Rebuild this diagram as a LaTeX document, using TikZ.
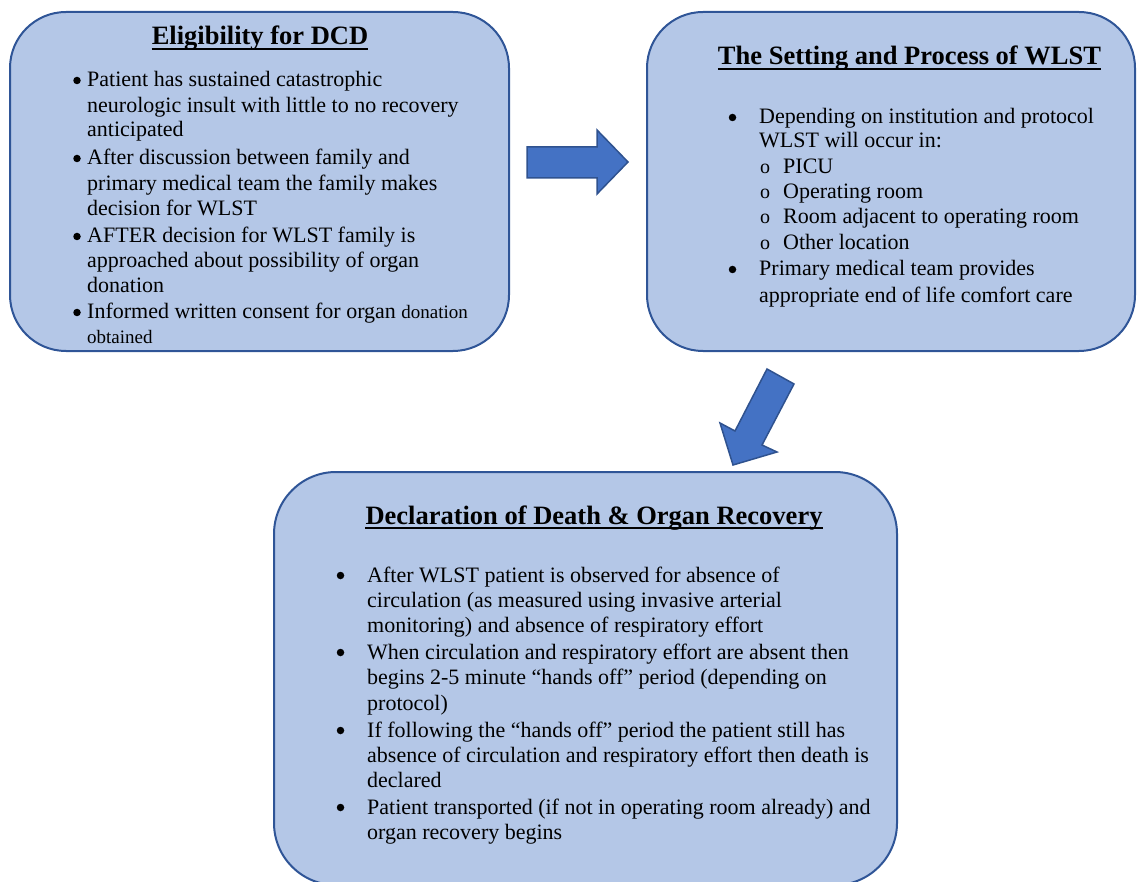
\documentclass[tikz,border=0pt]{standalone}
\usepackage{fontspec}
\setmainfont{Liberation Serif}
\definecolor{boxfill}{HTML}{B4C7E7}
\definecolor{boxline}{HTML}{2F5597}
\definecolor{arrfill}{HTML}{4472C4}
\definecolor{arrline}{HTML}{2F528F}
\begin{document}
\begin{tikzpicture}[x=1pt,y=-1pt,
  box/.style={draw=boxline,fill=boxfill,line width=2pt,shape=rectangle,inner sep=0pt},
  title/.style={inner sep=0pt,anchor=base,font=\fontsize{26.5}{30}\selectfont\bfseries},
  txt/.style={inner sep=0pt,anchor=base west,font=\fontsize{22}{26}\selectfont},
  bul/.style={circle,fill=black,inner sep=0pt,minimum size=7.5pt,yshift=6.5pt},
  sub/.style={inner sep=0pt,anchor=base,font=\fontsize{20}{26}\selectfont},
  uline/.style={line width=2.5pt},
  blockarrow/.style={draw=arrline,fill=arrfill,line width=1.5pt,line join=miter}]
\useasboundingbox (0,0) rectangle (1137,882);
\clip (0,0) rectangle (1137,882);

% boxes
\node[box,rounded corners=56pt,minimum width=499pt,minimum height=339pt] (box1) at (259.5,181.5) {};
\node[box,rounded corners=56pt,minimum width=488pt,minimum height=339pt] (box2) at (891,181.5) {};
\node[box,rounded corners=62pt,minimum width=623pt,minimum height=413pt] (box3) at (585.5,678.5) {};

% block arrows
\draw[blockarrow] (527,147) -- (597,147) -- (597,130) -- (628,162) -- (597,194) -- (597,178) -- (527,178) -- cycle;
\draw[blockarrow] (767,369) -- (794,384) -- (762,445) -- (777,452) -- (733,465) -- (720,423) -- (735,431) -- cycle;

% box 1
\node[title] (t1) at (260,45) {Eligibility for DCD};
\draw[uline] ([yshift=-4pt]t1.base west) -- ([yshift=-4pt]t1.base east);
\node[bul] (b1a) at (77,87) {};
\node[txt] (l1a) at (87,87) {Patient has sustained catastrophic};
\node[txt] (l1b) at (87,113) {neurologic insult with little to no recovery};
\node[txt] (l1c) at (87,137) {anticipated};
\node[bul] (b1b) at (77,165) {};
\node[txt] (l1d) at (87,165) {After discussion between family and};
\node[txt] (l1e) at (87,191) {primary medical team the family makes};
\node[txt] (l1f) at (87,216) {decision for WLST};
\node[bul] (b1c) at (77,243) {};
\node[txt] (l1g) at (87,243) {AFTER decision for WLST family is};
\node[txt] (l1h) at (87,268) {approached about possibility of organ};
\node[txt] (l1i) at (87,293) {donation};
\node[bul] (b1d) at (77,319) {};
\node[txt] (l1j) at (87,319) {Informed written consent for organ {\fontsize{19}{24}\selectfont donation}};
\node[txt,font=\fontsize{19}{24}\selectfont] (l1k) at (87,343) {obtained};

% box 2
\node[title] (t2) at (909.5,65) {The Setting and Process of WLST};
\draw[uline] ([yshift=-4pt]t2.base west) -- ([yshift=-4pt]t2.base east);
\node[bul] (b2a) at (732.5,124) {};
\node[txt] (l2a) at (759,124) {Depending on institution and protocol};
\node[txt] (l2b) at (759,148) {WLST will occur in:};
\node[sub] (s2a) at (765,174) {o};
\node[txt] (l2c) at (783,174) {PICU};
\node[sub] (s2b) at (765,199) {o};
\node[txt] (l2d) at (783,199) {Operating room};
\node[sub] (s2c) at (765,224) {o};
\node[txt] (l2e) at (783,224) {Room adjacent to operating room};
\node[sub] (s2d) at (765,250) {o};
\node[txt] (l2f) at (783,250) {Other location};
\node[bul] (b2b) at (732.5,276) {};
\node[txt] (l2g) at (759,276) {Primary medical team provides};
\node[txt] (l2h) at (759,303) {appropriate end of life comfort care};

% box 3
\node[title] (t3) at (594,524) {Declaration of Death \& Organ Recovery};
\draw[uline] ([yshift=-4pt]t3.base west) -- ([yshift=-4pt]t3.base east);
\node[bul] (b3a) at (340.5,582) {};
\node[txt] (l3a) at (367,582) {After WLST patient is observed for absence of};
\node[txt] (l3b) at (367,607) {circulation (as measured using invasive arterial};
\node[txt] (l3c) at (367,632) {monitoring) and absence of respiratory effort};
\node[bul] (b3b) at (340.5,659) {};
\node[txt] (l3d) at (367,659) {When circulation and respiratory effort are absent then};
\node[txt] (l3e) at (367,684) {begins 2-5 minute “hands off” period (depending on};
\node[txt] (l3f) at (367,710) {protocol)};
\node[bul] (b3c) at (340.5,737) {};
\node[txt] (l3g) at (367,737) {If following the “hands off” period the patient still has};
\node[txt] (l3h) at (367,762) {absence of circulation and respiratory effort then death is};
\node[txt] (l3i) at (367,787) {declared};
\node[bul] (b3d) at (340.5,814) {};
\node[txt] (l3j) at (367,814) {Patient transported (if not in operating room already) and};
\node[txt] (l3k) at (367,839) {organ recovery begins};
\end{tikzpicture}
\end{document}
